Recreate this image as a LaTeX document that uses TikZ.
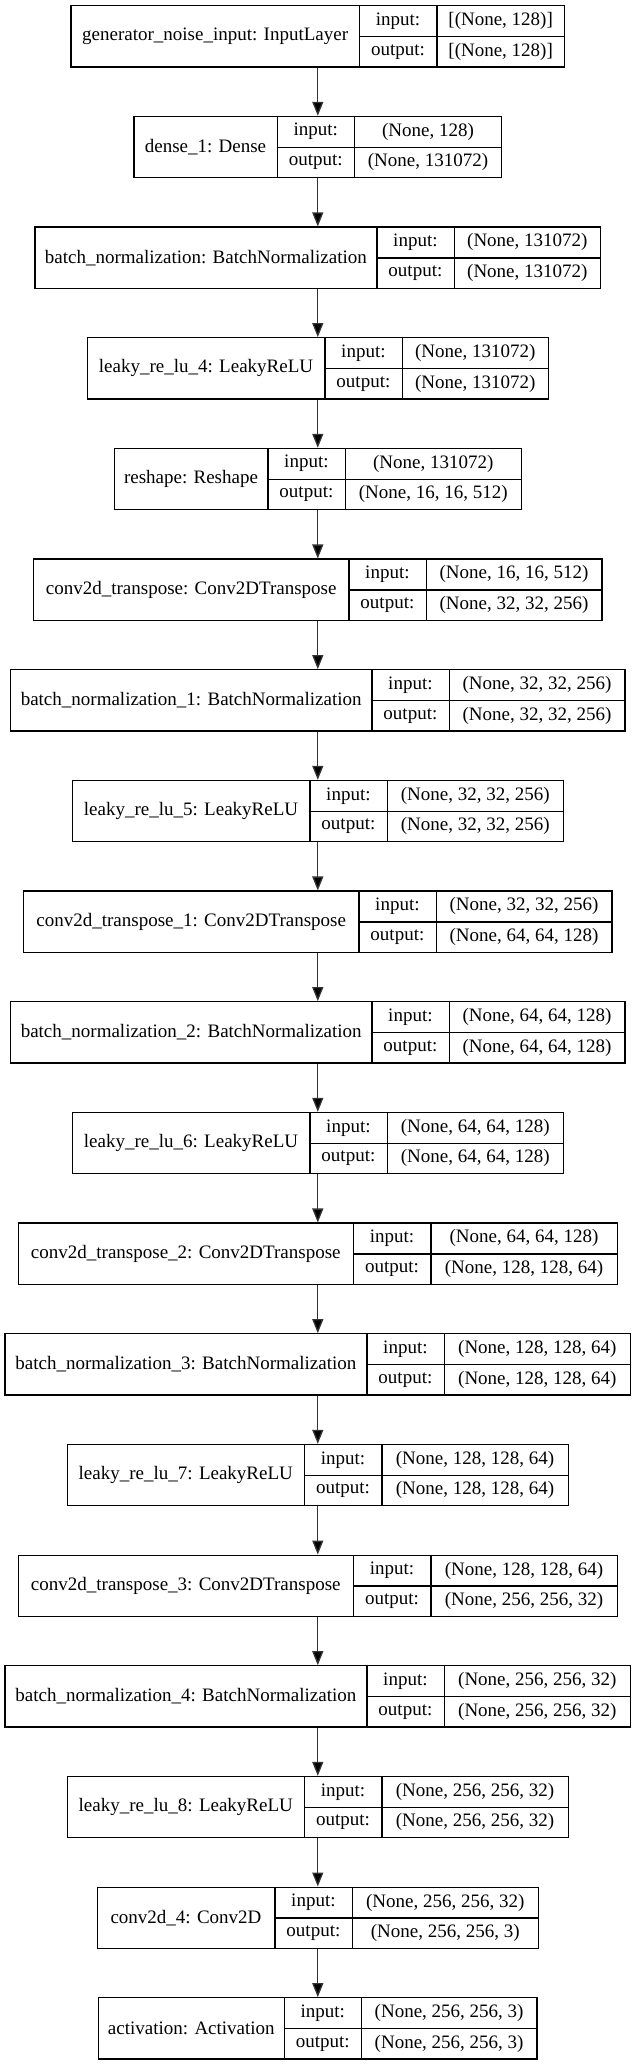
\documentclass[tikz,border=0pt]{standalone}
\usepackage{fontspec}
\setmainfont{Liberation Serif}
\usetikzlibrary{arrows.meta}
\tikzset{
  outerbox/.style={draw=black, line width=1.2pt, inner sep=0pt, minimum height=61.3pt},
  cellbox/.style={inner sep=0pt, font=\fontsize{19}{22}\selectfont},
  cellline/.style={draw=black, line width=1.2pt},
  flow/.style={draw=black!80, line width=1.3pt, -{Triangle[length=14pt,width=11pt,fill=black]}}
}
\newcommand\kerasLayer[6]{%
  \pgfmathsetmacro\ktop{5.7+(#1-1)*110.67}%
  \pgfmathsetmacro\kmid{\ktop+30.65}%
  \pgfmathsetmacro\krowa{\ktop+15.33}%
  \pgfmathsetmacro\krowb{\ktop+45.98}%
  \pgfmathsetmacro\kleft{#2}%
  \pgfmathsetmacro\kright{635.6-#2}%
  \pgfmathsetmacro\ksplit{#3}%
  \pgfmathsetmacro\ksplitb{#3+77.4}%
  \pgfmathsetmacro\kw{\kright-\kleft}%
  \pgfmathsetmacro\knamew{\ksplit-\kleft}%
  \pgfmathsetmacro\knamex{(\ksplit+\kleft)/2}%
  \pgfmathsetmacro\klabx{\ksplit+38.7}%
  \pgfmathsetmacro\kvalw{\kright-\ksplitb}%
  \pgfmathsetmacro\kvalx{(\kright+\ksplitb)/2}%
  \node[outerbox, minimum width=\kw pt] (b#1) at (317.8,\kmid) {};
  \node[cellbox, minimum width=\knamew pt, minimum height=61.3pt] (n#1) at (\knamex,\kmid) {#4};
  \node[cellbox, minimum width=77.4pt, minimum height=30.65pt] (li#1) at (\klabx,\krowa) {input:};
  \node[cellbox, minimum width=77.4pt, minimum height=30.65pt] (lo#1) at (\klabx,\krowb) {output:};
  \node[cellbox, minimum width=\kvalw pt, minimum height=30.65pt] (vi#1) at (\kvalx,\krowa) {#5};
  \node[cellbox, minimum width=\kvalw pt, minimum height=30.65pt] (vo#1) at (\kvalx,\krowb) {#6};
  \draw[cellline] (n#1.north east) -- (n#1.south east);
  \draw[cellline] (li#1.north east) -- (lo#1.south east);
  \draw[cellline] (li#1.south west) -- (vi#1.south east);
}
\begin{document}
\begin{tikzpicture}[x=1pt,y=-1pt]
\useasboundingbox[fill=white] (0,0) rectangle (636,2065);
\kerasLayer{1}{71}{359.3}{generator\_noise\_input: InputLayer}{[(None, 128)]}{[(None, 128)]}
\kerasLayer{2}{134}{277}{dense\_1: Dense}{(None, 128)}{(None, 131072)}
\kerasLayer{3}{35}{376.7}{batch\_normalization: BatchNormalization}{(None, 131072)}{(None, 131072)}
\kerasLayer{4}{87.3}{324.7}{leaky\_re\_lu\_4: LeakyReLU}{(None, 131072)}{(None, 131072)}
\kerasLayer{5}{114.3}{267.7}{reshape: Reshape}{(None, 131072)}{(None, 16, 16, 512)}
\kerasLayer{6}{33.7}{348.7}{conv2d\_transpose: Conv2DTranspose}{(None, 16, 16, 512)}{(None, 32, 32, 256)}
\kerasLayer{7}{10.7}{371.7}{batch\_normalization\_1: BatchNormalization}{(None, 32, 32, 256)}{(None, 32, 32, 256)}
\kerasLayer{8}{72.3}{309.7}{leaky\_re\_lu\_5: LeakyReLU}{(None, 32, 32, 256)}{(None, 32, 32, 256)}
\kerasLayer{9}{23.7}{358.7}{conv2d\_transpose\_1: Conv2DTranspose}{(None, 32, 32, 256)}{(None, 64, 64, 128)}
\kerasLayer{10}{10.7}{371.7}{batch\_normalization\_2: BatchNormalization}{(None, 64, 64, 128)}{(None, 64, 64, 128)}
\kerasLayer{11}{72.3}{309.7}{leaky\_re\_lu\_6: LeakyReLU}{(None, 64, 64, 128)}{(None, 64, 64, 128)}
\kerasLayer{12}{18.3}{353.3}{conv2d\_transpose\_2: Conv2DTranspose}{(None, 64, 64, 128)}{(None, 128, 128, 64)}
\kerasLayer{13}{5}{366.7}{batch\_normalization\_3: BatchNormalization}{(None, 128, 128, 64)}{(None, 128, 128, 64)}
\kerasLayer{14}{67.3}{304.3}{leaky\_re\_lu\_7: LeakyReLU}{(None, 128, 128, 64)}{(None, 128, 128, 64)}
\kerasLayer{15}{18.3}{353.3}{conv2d\_transpose\_3: Conv2DTranspose}{(None, 128, 128, 64)}{(None, 256, 256, 32)}
\kerasLayer{16}{5}{366.7}{batch\_normalization\_4: BatchNormalization}{(None, 256, 256, 32)}{(None, 256, 256, 32)}
\kerasLayer{17}{67.3}{304.3}{leaky\_re\_lu\_8: LeakyReLU}{(None, 256, 256, 32)}{(None, 256, 256, 32)}
\kerasLayer{18}{97.3}{274.7}{conv2d\_4: Conv2D}{(None, 256, 256, 32)}{(None, 256, 256, 3)}
\kerasLayer{19}{98.7}{284}{activation: Activation}{(None, 256, 256, 3)}{(None, 256, 256, 3)}
\foreach \i [evaluate=\i as \j using int(\i+1)] in {1,...,18} {
  \draw[flow] (b\i.south) -- (b\j.north);
}
\end{tikzpicture}
\end{document}
